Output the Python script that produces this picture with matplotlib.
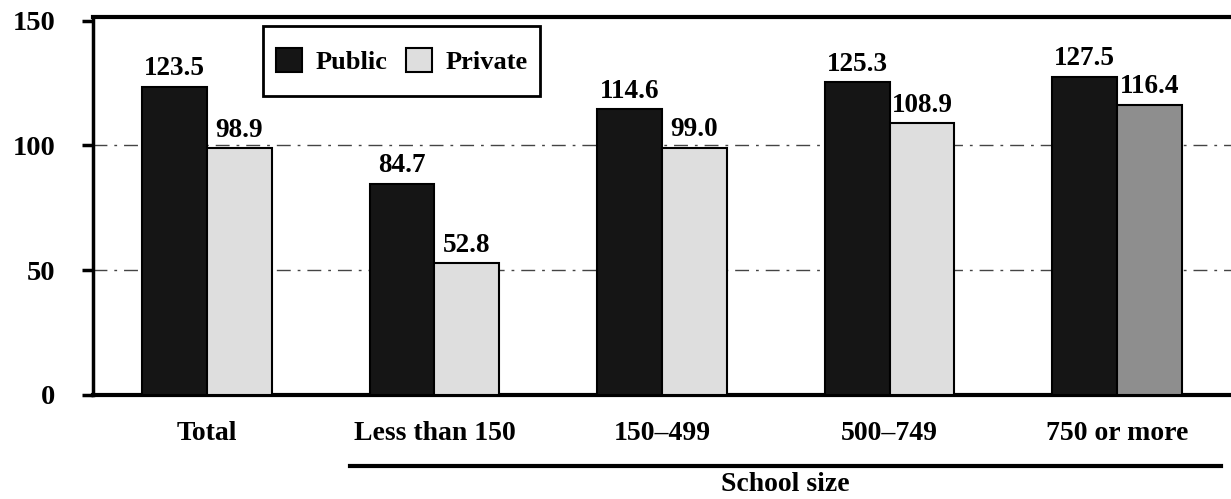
## Filename: plot.py
## Description: Public vs private bars by school size.

import matplotlib
matplotlib.use("Agg")
import matplotlib.pyplot as plt
import matplotlib.transforms as mtrans
from matplotlib.patches import Rectangle
import numpy as np

## DATA

categories = ["Total", "Less than 150", "150\u2013499", "500\u2013749", "750 or more"]
public = [123.5, 84.7, 114.6, 125.3, 127.5]
private = [98.9, 52.8, 99.0, 108.9, 116.4]
y_ticks = [0, 50, 100, 150]

## PLOT

plt.rcParams["font.family"] = ["Liberation Serif", "DejaVu Serif"]
plt.rcParams["font.weight"] = "bold"

fig = plt.figure(figsize=(12.31, 4.99), dpi=100)
ax = fig.add_axes([93 / 1231, 1 - 395 / 499, 1 - 93 / 1231, 378 / 499])

x = np.arange(len(categories))
w = 0.285
priv_colors = ["#dedede"] * (len(categories) - 1) + ["#8e8e8e"]

b1 = ax.bar(x - w / 2, public, w, color="#151515", edgecolor="black", linewidth=1.5,
            label="Public", zorder=3)
b2 = ax.bar(x + w / 2, private, w, color=priv_colors, edgecolor="black", linewidth=1.5,
            label="Private", zorder=3)

ax.bar_label(b1, fmt="%.1f", padding=4, fontsize=19.5, fontweight="bold")
ax.bar_label(b2, fmt="%.1f", padding=4, fontsize=19.5, fontweight="bold")

ax.set_xlim(-0.5, 4.5)
ax.set_ylim(0, 151.5)
ax.set_yticks(y_ticks)
ax.set_yticklabels([str(v) for v in y_ticks], fontsize=20.5, fontweight="bold")
ax.set_xticks(x)
ax.set_xticklabels(categories, fontsize=20, fontweight="bold")
ax.tick_params(axis="y", direction="out", length=8, width=2.5, pad=19)
ax.tick_params(axis="x", length=0, pad=19)

# dash-dot grid behind the bars
for v in y_ticks[1:3]:
    ax.axhline(v, color="#444444", linewidth=1, dashes=(10, 5, 2, 5), zorder=1)

ax.spines["right"].set_visible(False)
ax.spines["top"].set_linewidth(3)
ax.spines["left"].set_linewidth(2.5)
ax.spines["bottom"].set_linewidth(3)

# legend: frame drawn as its own box, entries centred inside it
box = Rectangle((0.149, 0.791), 0.244, 0.185, transform=ax.transAxes, fill=True,
                facecolor="white", edgecolor="black", linewidth=2, zorder=5)
ax.add_patch(box)
leg = ax.legend(loc="center", bbox_to_anchor=(0.271, 0.8835), ncol=2, frameon=False,
                handlelength=1.0, handleheight=1.0, columnspacing=0.7,
                handletextpad=0.5, borderpad=0.2,
                prop={"weight": "bold", "size": 19})
leg.set_zorder(6)

# bracket line under the school size groups
trans = mtrans.blended_transform_factory(ax.transData, ax.transAxes)
ax.plot([0.63, 4.457], [-0.188, -0.188], color="black", linewidth=3,
        transform=trans, clip_on=False)
ax.text(2.54, -0.238, "School size", transform=trans, ha="center", va="center",
        fontsize=20, fontweight="bold")

plt.savefig("out.png", dpi=100)
plt.close()
